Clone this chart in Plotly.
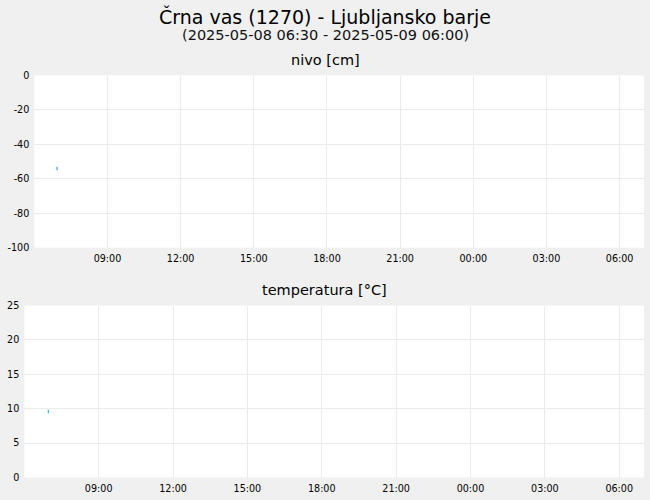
import plotly.graph_objects as go

# Data
level_times = ["2025-05-08 06:56"]
level_values = [-54]
temp_times = ["2025-05-08 06:58"]
temp_values = [9.6]

x_range = ["2025-05-08 06:00", "2025-05-09 07:00"]
tick_vals = ["2025-05-08 09:00", "2025-05-08 12:00", "2025-05-08 15:00", "2025-05-08 18:00",
             "2025-05-08 21:00", "2025-05-09 00:00", "2025-05-09 03:00", "2025-05-09 06:00"]
tick_text = ["09:00", "12:00", "15:00", "18:00", "21:00", "00:00", "03:00", "06:00"]

level_ticks = [0, -20, -40, -60, -80, -100]
level_tick_text = ["0", "-20", "-40", "-60", "-80", "-100"]
temp_ticks = [0, 5, 10, 15, 20, 25]
temp_tick_text = ["0", "5", "10", "15", "20", "25"]

title_text = "Črna vas (1270) - Ljubljansko barje"
subtitle_text = "(2025-05-08 06:30 - 2025-05-09 06:00)"
panel1_title = "nivo [cm]"
panel2_title = "temperatura [°C]"

W, H = 650, 500
FONT = "DejaVu Sans"

fig = go.Figure()
fig.add_trace(go.Scatter(x=level_times, y=level_values, mode="markers",
                         marker=dict(symbol="line-ns", size=2.5, line=dict(width=1, color="#1a8cff")),
                         xaxis="x", yaxis="y", showlegend=False, hoverinfo="skip"))
fig.add_trace(go.Scatter(x=temp_times, y=temp_values, mode="markers",
                         marker=dict(symbol="line-ns", size=2.5, line=dict(width=1, color="#0aa0f0")),
                         xaxis="x2", yaxis="y2", showlegend=False, hoverinfo="skip"))

grid = "#ebebeb"
axis_common = dict(showgrid=True, gridcolor=grid, gridwidth=1, zeroline=False, showline=False,
                   automargin=False, ticks="", tickfont=dict(family=FONT, size=9.6, color="#000"))

fig.update_layout(
    template="none",
    width=W, height=H,
    margin=dict(l=0, r=0, t=0, b=0, pad=0),
    paper_bgcolor="#f0f0f0", plot_bgcolor="#ffffff",
    font=dict(family=FONT, color="#000"),
    xaxis=dict(domain=[34.3/W, 644/W], anchor="y", type="date", range=x_range,
               tickvals=tick_vals, ticktext=tick_text, ticklabelstandoff=4, **axis_common),
    yaxis=dict(domain=[1-247.7/H, 1-75.5/H], anchor="x", range=[-100, 0],
               tickvals=level_ticks, ticktext=level_tick_text,
               ticklabelstandoff=4, **axis_common),
    xaxis2=dict(domain=[24.3/W, 644/W], anchor="y2", type="date", range=x_range,
                tickvals=tick_vals, ticktext=tick_text, ticklabelstandoff=4, **axis_common),
    yaxis2=dict(domain=[1-477.5/H, 1-305.5/H], anchor="x2", range=[0, 25],
                tickvals=temp_ticks, ticktext=temp_tick_text,
                ticklabelstandoff=4, **axis_common),
    annotations=[
        dict(text=title_text, x=0.5, y=1-16/H, xref="paper", yref="paper", showarrow=False,
             font=dict(family=FONT, size=19), xanchor="center", yanchor="middle"),
        dict(text=subtitle_text, x=0.5, y=1-35/H, xref="paper", yref="paper", showarrow=False,
             font=dict(family=FONT, size=14.5, color="#111"),
             xanchor="center", yanchor="middle"),
        dict(text=panel1_title, x=325/W, y=1-60/H, xref="paper", yref="paper", showarrow=False,
             font=dict(family=FONT, size=14.5), xanchor="center", yanchor="middle"),
        dict(text=panel2_title, x=324/W, y=1-290/H, xref="paper", yref="paper", showarrow=False,
             font=dict(family=FONT, size=14.5), xanchor="center", yanchor="middle"),
    ],
)

fig.write_html("out.html", config={"displayModeBar": False},
               post_script="document.body.style.margin='0';")
